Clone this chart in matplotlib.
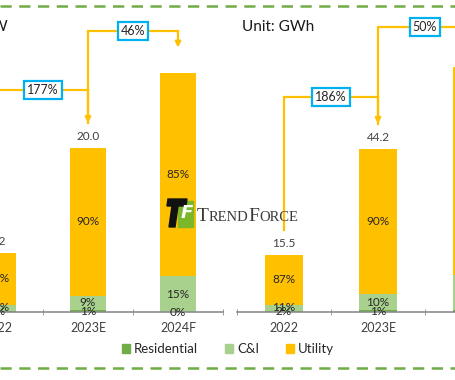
import matplotlib
matplotlib.use('Agg')
import matplotlib.pyplot as plt
from matplotlib.patches import Patch, Rectangle, Polygon
from matplotlib.lines import Line2D
from matplotlib.transforms import blended_transform_factory

# ---- data ----
years = ['2022', '2023E', '2024F']

gw_total = [7.2, 20.0, 29.2]
gw_res = [2, 1, 0]
gw_ci = [10, 9, 15]
gw_util = [88, 90, 85]
gw_growth = ['177%', '46%']

gwh_total = [15.5, 44.2, 66.3]
gwh_res = [2, 1, 1]
gwh_ci = [11, 10, 14]
gwh_util = [87, 90, 85]
gwh_growth = ['186%', '50%']

# the forecast bar carries no total label in the source
total_labelled = [True, True, False]

series_names = ['Residential', 'C&I', 'Utility']

# ---- style ----
W, H = 455, 380
RES_C = '#70AD47'
CI_C = '#A9D18E'
UTIL_C = '#FFC000'
ARROW_C = '#FFC000'
BOX_C = '#00B0F0'
TXT_C = '#404040'
plt.rcParams['font.family'] = ['Lato', 'DejaVu Sans']

BASE_PX = 312      # baseline, px from top
TOP_PX = 10
AX_H = BASE_PX - TOP_PX
GAP_PX = 25


def px(x, y):
    return x / W, 1 - y / H


fig = plt.figure(figsize=(W / 100, H / 100), dpi=100)
bottom = (H - BASE_PX) / H
ax_l = fig.add_axes([-47 / W, bottom, 270 / W, AX_H / H])
ax_r = fig.add_axes([237 / W, bottom, 282 / W, AX_H / H])


def panel(ax, totals, res, ci, util, px_per_unit, width):
    x = range(len(years))
    bottoms = [0.0] * len(years)
    for pcts, color in [(res, RES_C), (ci, CI_C), (util, UTIL_C)]:
        for i in x:
            share = pcts[i] / (res[i] + ci[i] + util[i])
            h = totals[i] * share
            ax.bar(i, h, width, bottom=bottoms[i], color=color, zorder=2)
            ax.text(i, bottoms[i] + h / 2, f'{pcts[i]}%', ha='center', va='center',
                    fontsize=8.5, color='#262626', zorder=4)
            bottoms[i] += h
    for i in x:
        if total_labelled[i]:
            ax.annotate(f'{totals[i]:.1f}', xy=(i, totals[i]), xytext=(0, 4),
                        textcoords='offset points', ha='center', va='bottom',
                        fontsize=8.5, color=TXT_C)
    ax.set_xlim(-0.5, len(years) - 0.5)
    ax.set_ylim(0, AX_H / px_per_unit)
    for s in ['left', 'right', 'top']:
        ax.spines[s].set_visible(False)
    ax.spines['bottom'].set_color('#8C8C8C')
    ax.spines['bottom'].set_linewidth(1.2)
    ax.set_yticks([])
    ax.set_xticks(list(x))
    ax.set_xticklabels(years, fontsize=9, color=TXT_C)
    ax.set_xticks([i - 0.5 for i in range(len(years) + 1)], minor=True)
    ax.tick_params(axis='x', which='major', length=0, pad=7)
    ax.tick_params(axis='x', which='minor', direction='inout', length=4,
                   color='#8C8C8C')
    ax.patch.set_alpha(0)


def connector(ax, i0, i1, v0, v1, level, label):
    tr = blended_transform_factory(ax.transData, ax.transAxes)
    top = ax.get_ylim()[1]
    gap = GAP_PX / AX_H
    y0 = v0 / top + gap
    y1 = v1 / top + gap
    ax.plot([i0, i0, i1], [y0, level, level], transform=tr, color=ARROW_C,
            lw=1.6, clip_on=False, zorder=5, solid_joinstyle='miter')
    ax.annotate('', xy=(i1, y1), xytext=(i1, level), xycoords=tr, textcoords=tr,
                arrowprops=dict(arrowstyle='-|>', color=ARROW_C, lw=1.6,
                                shrinkA=0, shrinkB=0, mutation_scale=8),
                annotation_clip=False, zorder=5)
    ax.text((i0 + i1) / 2, level, label, transform=tr, ha='center', va='center',
            fontsize=9, color='#262626', zorder=6,
            bbox=dict(boxstyle='square,pad=0.25', fc='white', ec=BOX_C, lw=1.6))


panel(ax_l, gw_total, gw_res, gw_ci, gw_util, 8.2, 0.41)
panel(ax_r, gwh_total, gwh_res, gwh_ci, gwh_util, 3.69, 0.40)

connector(ax_l, 0, 1, gw_total[0], gw_total[1], (BASE_PX - 90) / AX_H, gw_growth[0])
connector(ax_l, 1, 2, gw_total[1], gw_total[2], (BASE_PX - 31) / AX_H, gw_growth[1])
connector(ax_r, 0, 1, gwh_total[0], gwh_total[1], (BASE_PX - 97) / AX_H, gwh_growth[0])
connector(ax_r, 1, 2, gwh_total[1], gwh_total[2], (BASE_PX - 27) / AX_H, gwh_growth[1])

# unit titles
fig.text(*px(8, 27), 'Unit: GW', ha='right', va='center', fontsize=11, color='#1a1a1a')
fig.text(*px(242, 27), 'Unit: GWh', ha='left', va='center', fontsize=11, color='#1a1a1a')

# legend
handles = [Patch(color=c) for c in (RES_C, CI_C, UTIL_C)]
fig.legend(handles, series_names, loc='center', bbox_to_anchor=px(228, 349), ncol=3,
           frameon=False, handlelength=0.6, handleheight=0.6, handletextpad=0.35,
           columnspacing=2.0, fontsize=9.5, labelcolor='#262626')

# dashed green frame lines
for yy in (6, 368):
    fig.add_artist(Line2D([0, 1], [1 - yy / H] * 2, transform=fig.transFigure,
                          color='#70AD47', lw=1.8, ls=(0, (4.5, 3))))

# TrendForce watermark
tf = fig.transFigure
fig.add_artist(Rectangle(px(178, 227), 15 / W, 26 / H, transform=tf, color='#7AB829', zorder=7))
fig.add_artist(Polygon([px(168, 199), px(187, 199), px(186, 206), px(178, 206),
                        px(175, 227), px(169, 227), px(172, 206), px(167, 206)],
                       closed=True, transform=tf, color='#111111', zorder=8))
fig.text(*px(187, 213), 'F', ha='center', va='center', fontsize=13, fontweight='bold',
         style='italic', color='white', zorder=9, family='DejaVu Sans')
r = fig.canvas.get_renderer()
xpos = 197
for s, size in [('T', 14), ('REND', 10.5), ('F', 14), ('ORCE', 10.5)]:
    t = fig.text(*px(xpos, 221), s, fontsize=size, family='Liberation Serif',
                 color='#3a3a3a', va='baseline', ha='left', zorder=9)
    xpos += t.get_window_extent(r).width

fig.savefig('out.png', dpi=100)
